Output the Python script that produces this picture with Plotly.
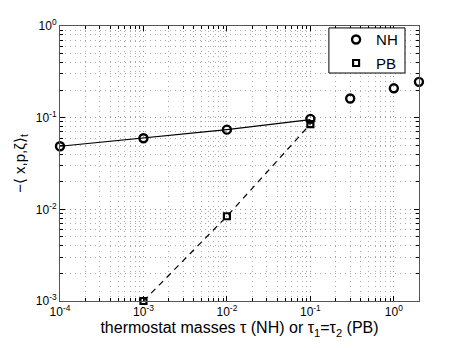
import plotly.graph_objects as go

nh_tau = [1e-4, 1e-3, 1e-2, 1e-1, 0.3, 1.0, 2.0]
nh_val = [0.0488, 0.0596, 0.074, 0.097, 0.162, 0.209, 0.246]
nh_fit_tau = [1e-4, 1e-3, 1e-2, 1e-1]
nh_fit_val = [0.0488, 0.0596, 0.074, 0.095]

pb_tau = [1e-3, 1e-2, 1e-1]
pb_val = [0.001, 0.0084, 0.085]

x_tickvals = [1e-4, 1e-3, 1e-2, 1e-1, 1]
x_ticktext = ["10<sup>-4</sup>", "10<sup>-3</sup>", "10<sup>-2</sup>", "10<sup>-1</sup>", "10<sup>0</sup>"]
y_tickvals = [1e-3, 1e-2, 1e-1, 1]
y_ticktext = ["10<sup>-3</sup>", "10<sup>-2</sup>", "10<sup>-1</sup>", "10<sup>0</sup>"]


def minor_vals(decades):
    return [m * 10.0 ** d for d in decades for m in range(2, 10)]


fig = go.Figure()
fig.add_trace(go.Scatter(x=nh_fit_tau, y=nh_fit_val, mode="lines",
                         line=dict(color="black", width=1.2), showlegend=False))
fig.add_trace(go.Scatter(x=pb_tau, y=pb_val, mode="lines",
                         line=dict(color="black", width=1.2, dash="6px,5px"), showlegend=False))
fig.add_trace(go.Scatter(x=nh_tau, y=nh_val, mode="markers", name="NH", legendgroup="nh",
                         cliponaxis=False,
                         marker=dict(symbol="circle-open", size=8, color="black",
                                     line=dict(width=2.4, color="black"))))
fig.add_trace(go.Scatter(x=pb_tau, y=pb_val, mode="markers", name="PB", legendgroup="pb",
                         cliponaxis=False,
                         marker=dict(symbol="square-open", size=6, color="black",
                                     line=dict(width=2.2, color="black"))))

font = "Liberation Sans, Arial, sans-serif"


def axis_style(minor_ticks):
    return dict(
        type="log", automargin=False,
        ticks="inside", ticklen=5, tickcolor="black",
        showline=True, linecolor="#555", linewidth=1, mirror="allticks",
        showgrid=True, gridcolor="#999", griddash="1px,4px", gridwidth=1,
        minor=dict(tickvals=minor_ticks, showgrid=True, gridcolor="#aaa",
                   griddash="1px,4px", ticks="inside", ticklen=3, tickcolor="black"),
        zeroline=False, tickfont=dict(size=12, color="black", family=font),
    )


fig.update_xaxes(range=[-4, 0.3015], tickvals=x_tickvals, ticktext=x_ticktext,
                 **axis_style(minor_vals(range(-4, 1))),
                 title=dict(text="thermostat masses τ (NH) or τ<sub>1</sub>=τ<sub>2</sub> (PB)",
                            font=dict(size=16, color="black", family=font), standoff=2))
fig.update_yaxes(range=[-3, 0], tickvals=y_tickvals, ticktext=y_ticktext,
                 **axis_style(minor_vals(range(-3, 0))),
                 title=dict(text="−⟨ x,p,ζ⟩<sub>t</sub>",
                            font=dict(size=15, color="black", family=font), standoff=6))
fig.add_shape(type="rect", xref="paper", yref="paper",
              x0=0.749, x1=0.961, y0=0.829, y1=0.993,
              line=dict(color="black", width=1), fillcolor="white", layer="above")
# page body has an 8px default margin, so the figure is 8px smaller and offset
fig.update_layout(
    width=455, height=340,
    margin=dict(l=52, r=44, t=18, b=47),
    plot_bgcolor="white", paper_bgcolor="white",
    font=dict(family=font, color="black"),
    legend=dict(x=0.769, y=1.01, xanchor="left", yanchor="top",
                borderwidth=0, bgcolor="rgba(0,0,0,0)", traceorder="grouped",
                font=dict(size=15, family=font), itemwidth=30, tracegroupgap=1),
)
fig.write_html("out.html")
